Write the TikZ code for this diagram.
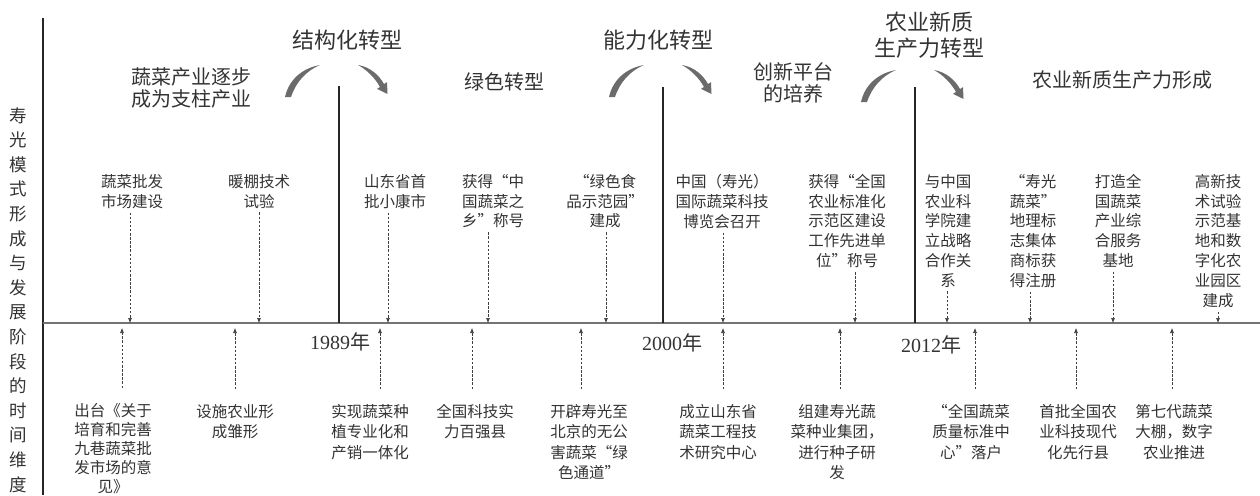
\documentclass[tikz,border=0pt]{standalone}
\usepackage{fontspec}
\setmainfont{Liberation Serif}
\newfontfamily\cjk{Noto Sans CJK SC}
\newcommand\zoq{\makebox[1em][r]{“}}
\newcommand\zcq{\makebox[1em][l]{”}}
\usetikzlibrary{arrows.meta}
\begin{document}
\begin{tikzpicture}[x=1pt,y=-1pt,
  txt/.style={text=black!80, inner sep=0pt, align=center},
  ev/.style={txt, font=\cjk\fontsize{15.5}{19.8}\selectfont, anchor=north},
  evb/.style={txt, font=\cjk\fontsize{15.5}{20.5}\selectfont, anchor=north},
  stage/.style={txt, font=\cjk\fontsize{20}{22.5}\selectfont},
  head/.style={txt, font=\cjk\fontsize{22}{26}\selectfont},
  yearlbl/.style={txt, font=\fontsize{20}{22}\selectfont},
  vlbl/.style={txt, font=\cjk\fontsize{17.5}{24.6}\selectfont},
  conn/.style={black!75, line width=0.6pt, dash pattern=on 2.5pt off 1.6pt, -{Latex[length=5pt,width=4pt]}},
  sepline/.style={black!85, line width=1.1pt},
  timeline/.style={black!55, line width=1.5pt},
  turnarrow/.pic={
    \fill[black!58] (-54,32) .. controls (-50,14) and (-36,3) .. (-19,0)
      .. controls (-33,6) and (-43,17) .. (-48,32) -- cycle;
    \fill[black!58] (19,0) .. controls (31,2) and (40,10) .. (45,19)
      -- (48,17.2) -- (48.5,29) -- (38,23.8) -- (41,22)
      .. controls (36,13) and (28,5) .. (19,0) -- cycle;
  }]
\useasboundingbox (0,0) rectangle (1260,495);

% axes
\draw[sepline] (43,18) -- (43,495);
\draw[timeline] (43,323) -- (1260,323);

% separators
\draw[sepline] (339,86) -- (339,323);
\draw[sepline] (663,87) -- (663,323);
\draw[sepline] (915,87) -- (915,323);

% turning arrows
\pic at (339,65) {turnarrow};
\pic at (663,65) {turnarrow};
\pic at (915,70) {turnarrow};

% headers
\node[head] (h1) at (347,40) {结构化转型};
\node[head] (h2) at (658,40) {能力化转型};
\node[head] (h3) at (929,35) {农业新质\\生产力转型};

% stages
\node[stage] (s1) at (191,88) {蔬菜产业逐步\\成为支柱产业};
\node[stage] (s2) at (504,82) {绿色转型};
\node[stage] (s3) at (793,83) {创新平台\\的培养};
\node[stage] (s4) at (1122,80) {农业新质生产力形成};

% vertical label
\node[vlbl] (vl) at (18,300) {寿\\光\\模\\式\\形\\成\\与\\发\\展\\阶\\段\\的\\时\\间\\维\\度};

% years
\node[yearlbl] (y1) at (340,342) {1989{\cjk 年}};
\node[yearlbl] (y2) at (672,343) {2000{\cjk 年}};
\node[yearlbl] (y3) at (931,345) {2012{\cjk 年}};

% top events
\node[ev] (e1) at (132,174) {蔬菜批发\\市场建设};
\node[ev] (e2) at (259,174) {暖棚技术\\试验};
\node[ev] (e3) at (395,174) {山东省首\\批小康市};
\node[ev] (e4) at (493,174) {获得\zoq 中\\国蔬菜之\\乡\zcq 称号};
\node[ev] (e5) at (605,174) {\zoq 绿色食\\品示范园\zcq\\建成};
\node[ev] (e6) at (722,174) {中国（寿光）\\国际蔬菜科技\\博览会召开};
\node[ev] (e7) at (847,174) {获得\zoq 全国\\农业标准化\\示范区建设\\工作先进单\\位\zcq 称号};
\node[ev] (e8) at (948,174) {与中国\\农业科\\学院建\\立战略\\合作关\\系};
\node[ev] (e9) at (1033,174) {\zoq 寿光\\蔬菜\zcq\\地理标\\志集体\\商标获\\得注册};
\node[ev] (e10) at (1118,174) {打造全\\国蔬菜\\产业综\\合服务\\基地};
\node[ev] (e11) at (1218,174) {高新技\\术试验\\示范基\\地和数\\字化农\\业园区\\建成};

\coordinate (t1) at (130,323);
\coordinate (t2) at (259,323);
\coordinate (t3) at (388,323);
\coordinate (t4) at (488,323);
\coordinate (t5) at (606,323);
\coordinate (t6) at (723,323);
\coordinate (t7) at (855,323);
\coordinate (t8) at (947,323);
\coordinate (t9) at (1030,323);
\coordinate (t10) at (1113,323);
\coordinate (t11) at (1218,323);

\foreach \i in {1,...,11}{
  \draw[conn] ([yshift=-4pt]e\i.south -| t\i) -- (t\i);
}

% bottom events
\node[evb, font=\cjk\fontsize{15.5}{19}\selectfont] (b1) at (113,403) {出台《关于\\培育和完善\\九巷蔬菜批\\发市场的意\\见》};
\node[evb] (b2) at (235,404) {设施农业形\\成雏形};
\node[evb] (b3) at (370,404) {实现蔬菜种\\植专业化和\\产销一体化};
\node[evb] (b4) at (475,404) {全国科技实\\力百强县};
\node[evb] (b5) at (589,404) {开辟寿光至\\北京的无公\\害蔬菜\zoq 绿\\色通道\zcq};
\node[evb] (b6) at (718,404) {成立山东省\\蔬菜工程技\\术研究中心};
\node[evb] (b7) at (837,404) {组建寿光蔬\\菜种业集团，\\进行种子研\\发};
\node[evb] (b8) at (971,404) {\zoq 全国蔬菜\\质量标准中\\心\zcq 落户};
\node[evb] (b9) at (1078,404) {首批全国农\\业科技现代\\化先行县};
\node[evb] (b10) at (1174,404) {第七代蔬菜\\大棚，数字\\农业推进};

\coordinate (u1) at (122,323);
\coordinate (u2) at (235,323);
\coordinate (u3) at (380,323);
\coordinate (u4) at (472,323);
\coordinate (u5) at (581,323);
\coordinate (u6) at (723,323);
\coordinate (u7) at (840,323);
\coordinate (u8) at (975,323);
\coordinate (u9) at (1076,323);
\coordinate (u10) at (1172,323);

\foreach \i in {1,...,10}{
  \draw[conn, shorten >=5pt] ([yshift=15pt]b\i.north -| u\i) -- (u\i);
}
\end{tikzpicture}
\end{document}
